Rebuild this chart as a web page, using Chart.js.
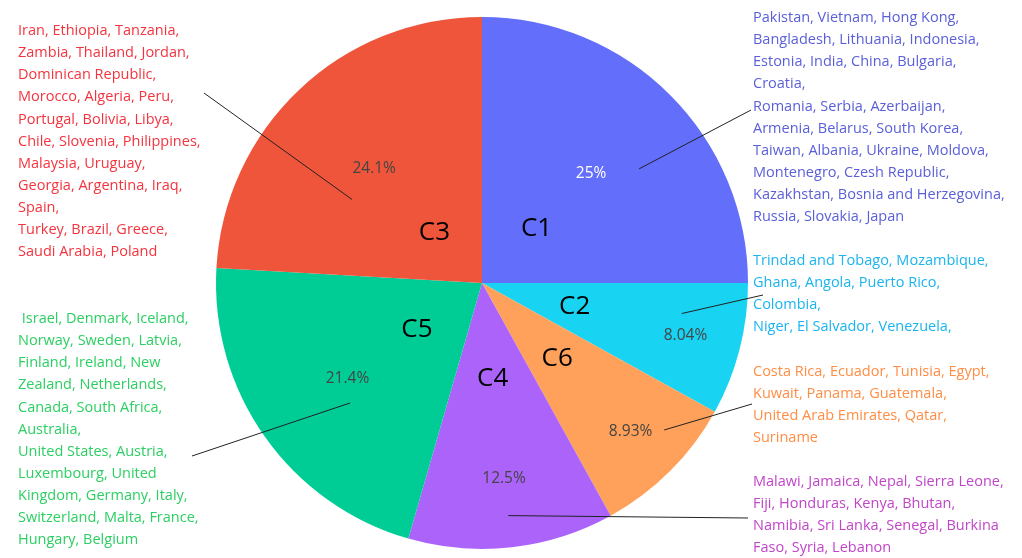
<html lang="en">
<head>
    <meta charset="UTF-8">
    <title>Clusters</title>
    <script src="https://cdn.jsdelivr.net/npm/chart.js@4.4.1/dist/chart.umd.min.js"></script>
    <style>
        body { margin: 0; background: #fff; }
    </style>
</head>
<body>
    <canvas id="myChart" width="1022" height="558"></canvas>
    <script>
        // data
        const clusters = ["C1", "C2", "C6", "C4", "C5", "C3"];
        const counts = [28, 9, 10, 14, 24, 27];
        const sliceColors = ["#636efa", "#19d3f3", "#ffa15a", "#ab63fa", "#00cc96", "#ef553b"];

        const countriesC1 = ["Pakistan, Vietnam, Hong Kong,", "Bangladesh, Lithuania, Indonesia,", "Estonia, India, China, Bulgaria,", "Croatia,",
            "Romania, Serbia, Azerbaijan,", "Armenia, Belarus, South Korea,", "Taiwan, Albania, Ukraine, Moldova,", "Montenegro, Czesh Republic,",
            "Kazakhstan, Bosnia and Herzegovina,", "Russia, Slovakia, Japan"];
        const countriesC2 = ["Trindad and Tobago, Mozambique,", "Ghana, Angola, Puerto Rico,", "Colombia,", "Niger, El Salvador, Venezuela,"];
        const countriesC6 = ["Costa Rica, Ecuador, Tunisia, Egypt,", "Kuwait, Panama, Guatemala,", "United Arab Emirates, Qatar,", "Suriname"];
        const countriesC4 = ["Malawi, Jamaica, Nepal, Sierra Leone,", "Fiji, Honduras, Kenya, Bhutan,", "Namibia, Sri Lanka, Senegal, Burkina", "Faso, Syria, Lebanon"];
        const countriesC5 = [" Israel, Denmark, Iceland,", "Norway, Sweden, Latvia,", "Finland, Ireland, New", "Zealand, Netherlands,", "Canada, South Africa,",
            "Australia,", "United States, Austria,", "Luxembourg, United", "Kingdom, Germany, Italy,", "Switzerland, Malta, France,", "Hungary, Belgium"];
        const countriesC3 = ["Iran, Ethiopia, Tanzania,", "Zambia, Thailand, Jordan,", "Dominican Republic,", "Morocco, Algeria, Peru,",
            "Portugal, Bolivia, Libya,", "Chile, Slovenia, Philippines,", "Malaysia, Uruguay,", "Georgia, Argentina, Iraq,", "Spain,",
            "Turkey, Brazil, Greece,", "Saudi Arabia, Poland"];
        const countryLists = [countriesC1, countriesC2, countriesC6, countriesC4, countriesC5, countriesC3];

        // layout of the annotations, same order as clusters
        const notes = [
            { x: 753, y: 18, color: "#5a5fd8", pin: [0.60, 0.73], end: [751, 110], pct: 0.58, name: 0.29, pctColor: "#fff" },
            { x: 753, y: 261, color: "#1bb4ee", pin: [0.30, 0.76], end: [763, 295], pct: 0.79, name: 0.36, pctColor: "#444" },
            { x: 753, y: 372, color: "#ff8d45", pin: [0.31, 0.88], end: [752, 404], pct: 0.79, name: 0.40, pctColor: "#444" },
            { x: 753, y: 482, color: "#c145c9", pin: [0.50, 0.88], end: [748, 518], pct: 0.74, name: 0.36, pctColor: "#444" },
            { x: 18, y: 319, color: "#2ccf62", pin: [0.41, 0.67], end: [192, 456], pct: 0.62, name: 0.30, pctColor: "#444" },
            { x: 18, y: 31, color: "#f3343f", pin: [0.34, 0.58], end: [204, 93], pct: 0.59, name: 0.26, pctColor: "#444" }
        ];

        const total = counts.reduce((a, b) => a + b, 0);
        const pctText = v => parseFloat((v / total * 100).toPrecision(3)) + "%";

        function polar(arc, frac, rf) {
            const a = arc.startAngle + (arc.endAngle - arc.startAngle) * frac;
            const r = arc.outerRadius * rf;
            return [arc.x + Math.cos(a) * r, arc.y + Math.sin(a) * r];
        }

        const notesPlugin = {
            id: "notes",
            afterDatasetsDraw(chart) {
                const ctx = chart.ctx;
                const arcs = chart.getDatasetMeta(0).data;
                ctx.save();
                arcs.forEach((arc, i) => {
                    const n = notes[i];
                    // percent inside slice
                    ctx.textAlign = "center";
                    ctx.textBaseline = "middle";
                    ctx.font = "15.5px 'Open Sans', 'Noto Sans', sans-serif";
                    ctx.fillStyle = n.pctColor;
                    let p = polar(arc, 0.5, n.pct);
                    ctx.fillText(pctText(counts[i]), p[0], p[1]);
                    // cluster name
                    ctx.font = "26px 'Open Sans', 'Noto Sans', sans-serif";
                    ctx.fillStyle = "#000";
                    p = polar(arc, 0.5, n.name);
                    ctx.fillText(clusters[i], p[0], p[1]);
                    // pointer line
                    p = polar(arc, n.pin[0], n.pin[1]);
                    ctx.strokeStyle = "#222";
                    ctx.lineWidth = 1;
                    ctx.beginPath();
                    ctx.moveTo(p[0], p[1]);
                    ctx.lineTo(n.end[0], n.end[1]);
                    ctx.stroke();
                    // country list
                    ctx.textAlign = "left";
                    ctx.font = "14.5px 'Open Sans', 'Noto Sans', sans-serif";
                    ctx.fillStyle = n.color;
                    countryLists[i].forEach((line, k) => {
                        ctx.fillText(line, n.x, n.y + k * 22.1);
                    });
                });
                ctx.restore();
            }
        };

        const ctx = document.getElementById("myChart");
        new Chart(ctx, {
            type: "pie",
            data: {
                labels: clusters,
                datasets: [{
                    data: counts,
                    backgroundColor: sliceColors,
                    borderWidth: 0
                }]
            },
            options: {
                responsive: false,
                animation: false,
                layout: { padding: { left: 216, right: 274, top: 17, bottom: 9 } },
                plugins: {
                    legend: { display: false },
                    tooltip: { enabled: false }
                }
            },
            plugins: [notesPlugin]
        });
    </script>
</body>
</html>
